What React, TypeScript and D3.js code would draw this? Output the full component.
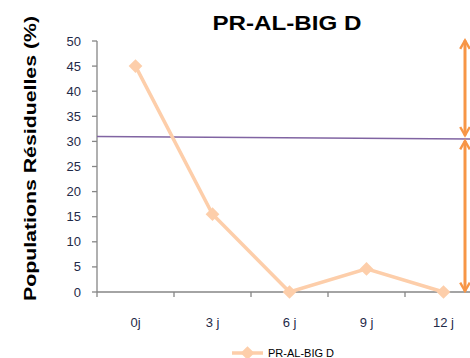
import React from "react";
import * as d3 from "d3";

const categories = ["0j", "3 j", "6 j", "9 j", "12 j"];
const seriesName = "PR-AL-BIG D";
const values = [45, 15.5, 0, 4.6, 0];
const yTicks = [0, 5, 10, 15, 20, 25, 30, 35, 40, 45, 50];
const refLine = [31, 30.5];
const arrowSpans = [[50.5, 31], [30.5, 0]];

const W = 470, H = 358;
const plotLeft = 97, plotRight = 482, plotTop = 41, plotBottom = 292;

export default function App() {
  const x = d3.scaleBand().domain(categories).range([plotLeft, plotRight]);
  const y = d3.scaleLinear().domain([0, 50]).range([plotBottom, plotTop]);
  const cx = (c: string) => (x(c) as number) + x.bandwidth() / 2;
  const line = d3.line<number>().x((_, i) => cx(categories[i])).y((v) => y(v));
  const diamond = d3.symbol().type(d3.symbolDiamond2).size(120)() as string;
  const axisColor = "#868686";
  const tickColor = "#1f2a48";
  const lineColor = "#fdceaa";
  const arrowColor = "#f79646";
  const arrowX = 465;
  const boundaries = categories.map((c) => x(c) as number);
  return (
    <svg width={W} height={H} style={{ position: "absolute", left: 0, top: 0, background: "#fff" }}
      fontFamily="'Liberation Sans', Arial, sans-serif">
      <defs>
        <marker id="ah" viewBox="0 0 10 10" refX="8" refY="5" markerWidth="4" markerHeight="4" orient="auto-start-reverse">
          <path d="M1,1 L8,5 L1,9" fill="none" stroke={arrowColor} strokeWidth="2" />
        </marker>
      </defs>
      <text x={287} y={30} textAnchor="middle" fontSize={20} fontWeight="bold" fill="#000"
        textLength={149} lengthAdjust="spacingAndGlyphs">{seriesName}</text>
      <text transform={`translate(36,${158.5}) rotate(-90)`} textAnchor="middle" fontSize={17} fontWeight="bold" fill="#000"
        textLength={285} lengthAdjust="spacingAndGlyphs">
        Populations Résiduelles (%)
      </text>
      {/* y axis */}
      <line x1={plotLeft} x2={plotLeft} y1={plotTop} y2={plotBottom} stroke={axisColor} strokeWidth={1.3} />
      {yTicks.map((t) => (
        <g key={t}>
          <line x1={plotLeft - 5} x2={plotLeft} y1={y(t)} y2={y(t)} stroke={axisColor} strokeWidth={1.3} />
          <text x={81} y={y(t) + 4.5} textAnchor="end" fontSize={13} fill={tickColor}>{t}</text>
        </g>
      ))}
      {/* x axis */}
      <line x1={plotLeft} x2={W} y1={plotBottom} y2={plotBottom} stroke={axisColor} strokeWidth={1.3} />
      {boundaries.map((b, i) => (
        <line key={i} x1={b} x2={b} y1={plotBottom} y2={plotBottom + 5} stroke={axisColor} strokeWidth={1.3} />
      ))}
      {categories.map((c) => (
        <text key={c} x={cx(c)} y={327} textAnchor="middle" fontSize={13} fill={tickColor}>{c}</text>
      ))}
      {/* reference line */}
      <line x1={plotLeft} x2={W} y1={y(refLine[0])} y2={y(refLine[1])} stroke="#8064a2" strokeWidth={1.5} />
      {/* series */}
      <path d={line(values) as string} fill="none" stroke={lineColor} strokeWidth={3.5} />
      {values.map((v, i) => (
        <path key={i} d={diamond} transform={`translate(${cx(categories[i])},${y(v)})`} fill={lineColor} />
      ))}
      {/* arrows */}
      {arrowSpans.map((s, i) => (
        <line key={i} x1={arrowX} x2={arrowX} y1={y(s[0]) + 2} y2={y(s[1]) - 1} stroke={arrowColor} strokeWidth={3}
          markerStart="url(#ah)" markerEnd="url(#ah)" />
      ))}
      {/* legend */}
      <line x1={232} x2={263} y1={353} y2={353} stroke={lineColor} strokeWidth={3.5} />
      <path d={diamond} transform="translate(247.5,353)" fill={lineColor} />
      <text x={268} y={357} fontSize={11} fill="#000">{seriesName}</text>
    </svg>
  );
}
